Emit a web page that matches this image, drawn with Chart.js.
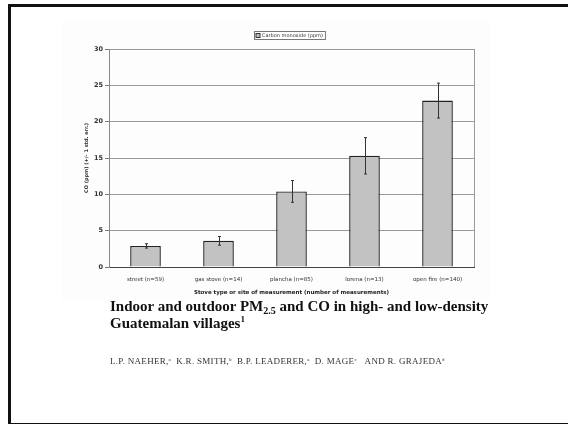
<!DOCTYPE html>
<html>
<head>
<meta charset="utf-8">
<script src="https://cdn.jsdelivr.net/npm/chart.js@4"></script>
<style>
  body { margin: 0; width: 568px; height: 424px; background: #fff; position: relative; overflow: hidden; }
  #frame { position: absolute; left: 8px; top: 4px; width: 600px; height: 416px; border: 3px solid #111; }
  #chartBox { position: absolute; left: 62px; top: 22px; width: 428px; height: 280px; background: #fdfdfd; }
  #title { position: absolute; left: 110px; top: 298px; font: bold 15px "Liberation Serif", "DejaVu Serif", serif; line-height: 17px; color: #111; white-space: nowrap; }
  #title sub { font-size: 10px; vertical-align: -3px; line-height: 0; }
  #title sup { font-size: 9px; vertical-align: 6px; line-height: 0; }
  #authors { position: absolute; left: 110px; top: 356px; font: 9px "Liberation Serif", "DejaVu Serif", serif; color: #333; letter-spacing: 0.3px; white-space: nowrap; }
  #authors sup { font-size: 5px; vertical-align: 3px; line-height: 0; }
</style>
</head>
<body>
<div id="frame"></div>
<div id="chartBox"><canvas id="coChart" width="428" height="280"></canvas></div>
<div id="title">Indoor and outdoor PM<sub>2.5</sub> and CO in high- and low-density<br>Guatemalan villages<sup>1</sup></div>
<div id="authors">L.P. NAEHER,<sup>a</sup>&nbsp;&nbsp;K.R. SMITH,<sup>b</sup>&nbsp;&nbsp;B.P. LEADERER,<sup>a</sup>&nbsp;&nbsp;D. MAGE<sup>c</sup>&nbsp;&nbsp;&nbsp;AND R. GRAJEDA<sup>d</sup></div>
<script>
// CO par type de foyer
const stoveLabels = ["street (n=59)", "gas stove (n=14)", "plancha (n=85)", "lorena (n=13)", "open fire (n=140)"];
const coValues = [2.9, 3.6, 10.4, 15.3, 22.9];
const coErrors = [0.3, 0.6, 1.5, 2.5, 2.4];
const yTicks = [0, 5, 10, 15, 20, 25, 30];

const errorBars = {
    id: "errorBars",
    afterDatasetsDraw(chart) {
        const { ctx, chartArea, scales } = chart;
        const meta = chart.getDatasetMeta(0);
        ctx.save();
        ctx.strokeStyle = "#333";
        ctx.lineWidth = 1;
        meta.data.forEach((bar, i) => {
            const x = Math.round(bar.x) + 0.5;
            const top = scales.y.getPixelForValue(coValues[i] + coErrors[i]);
            const bot = scales.y.getPixelForValue(coValues[i] - coErrors[i]);
            ctx.beginPath();
            ctx.moveTo(x, top);
            ctx.lineTo(x, bot);
            ctx.moveTo(x - 1.5, top);
            ctx.lineTo(x + 1.5, top);
            ctx.moveTo(x - 1.5, bot);
            ctx.lineTo(x + 1.5, bot);
            ctx.stroke();
        });
        // bord droit du cadre
        ctx.strokeStyle = "#999";
        ctx.beginPath();
        ctx.moveTo(chartArea.right + 0.5, chartArea.top);
        ctx.lineTo(chartArea.right + 0.5, chartArea.bottom);
        ctx.stroke();
        ctx.restore();
    },
    afterDraw(chart) {
        // petite légende encadrée
        const ctx = chart.ctx;
        const label = chart.data.datasets[0].label;
        ctx.save();
        ctx.font = "5px 'DejaVu Sans'";
        const w = ctx.measureText(label).width + 10;
        const x = 192, y = 9;
        ctx.fillStyle = "#fff";
        ctx.fillRect(x, y, w, 8);
        ctx.strokeStyle = "#777";
        ctx.lineWidth = 1;
        ctx.strokeRect(x + 0.5, y + 0.5, w, 8);
        ctx.fillStyle = "#c0c0c0";
        ctx.fillRect(x + 2, y + 2.5, 4, 4);
        ctx.strokeStyle = "#333";
        ctx.strokeRect(x + 2, y + 2.5, 4, 4);
        ctx.fillStyle = "#333";
        ctx.textBaseline = "middle";
        ctx.fillText(label, x + 8, y + 4.8);
        ctx.restore();
    }
};

new Chart("coChart", {
    type: "bar",
    data: {
        labels: stoveLabels,
        datasets: [{
            label: "Carbon monoxide (ppm)",
            data: coValues,
            backgroundColor: "#c2c2c2",
            borderColor: "#222",
            borderWidth: 1.4,
            categoryPercentage: 1,
            barPercentage: 0.42
        }]
    },
    options: {
        responsive: false,
        animation: false,
        layout: { padding: { top: 27, right: 16, left: 0, bottom: 6 } },
        scales: {
            x: {
                grid: { display: false },
                border: { color: "#444", width: 1 },
                ticks: { color: "#333", font: { size: 5.5, family: "DejaVu Sans" }, padding: 1, maxRotation: 0, autoSkip: false },
                title: {
                    display: true,
                    text: "Stove type or site of measurement (number of measurements)",
                    color: "#222",
                    font: { size: 5.5, weight: "bold", family: "DejaVu Sans" },
                    padding: { top: 1, bottom: 0 }
                },
                afterFit(scale) { scale.height = 29; }
            },
            y: {
                min: 0,
                max: 30,
                afterBuildTicks(scale) { scale.ticks = yTicks.map(v => ({ value: v })); },
                grid: { color: "#9a9a9a", lineWidth: 1, tickLength: 4, tickColor: "#777" },
                border: { color: "#888", width: 1 },
                ticks: { color: "#333", font: { size: 6.5, weight: "bold", family: "DejaVu Sans" }, padding: 2 },
                title: {
                    display: true,
                    text: "CO (ppm) (+/- 1 std. err.)",
                    color: "#333",
                    font: { size: 5, weight: "bold", family: "DejaVu Sans" },
                    padding: { top: 22, bottom: 0 }
                },
                afterFit(scale) { scale.width = 47; }
            }
        },
        plugins: {
            legend: { display: false },
            tooltip: { enabled: false }
        }
    },
    plugins: [errorBars]
});
</script>
</body>
</html>
